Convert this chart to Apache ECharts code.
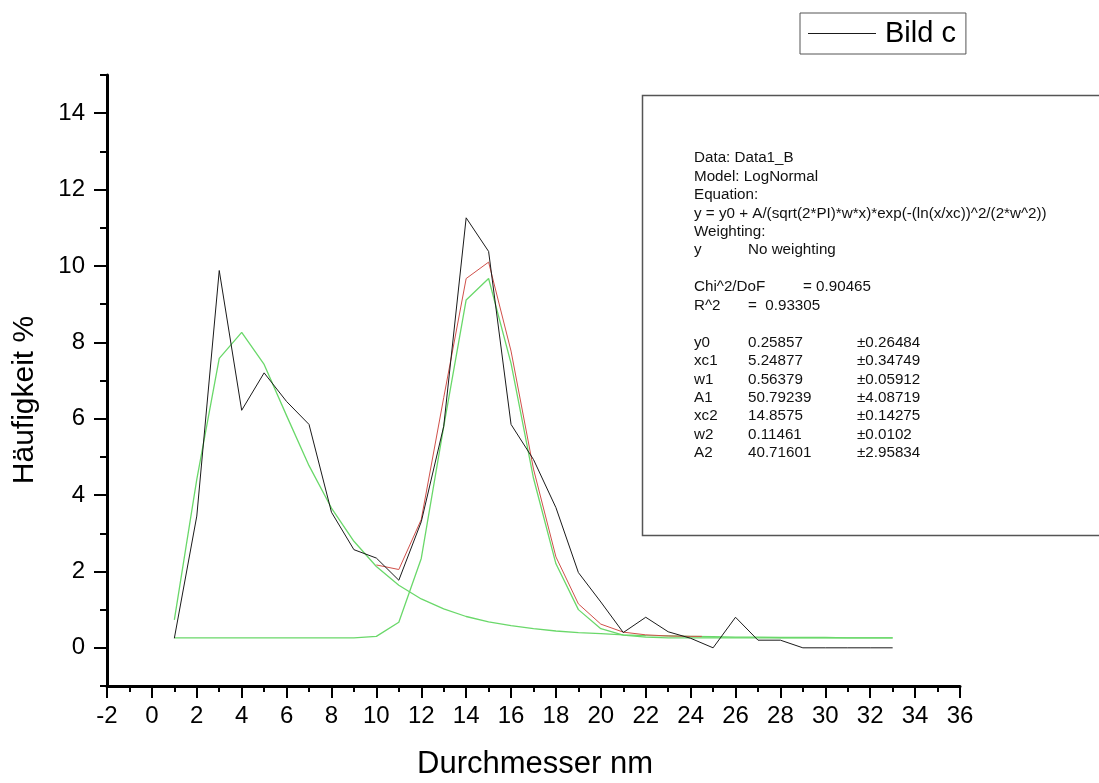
<!DOCTYPE html>
<html>
<head>
<meta charset="utf-8">
<script src="https://cdn.jsdelivr.net/npm/echarts@6/dist/echarts.min.js"></script>
<style>
html,body{margin:0;padding:0;background:#fff;}
#chart{width:1099px;height:783px;}
</style>
</head>
<body>
<div id="chart"></div>
<script>
// ---- data ----
const xValues = [1,2,3,4,5,6,7,8,9,10,11,12,13,14,15,16,17,18,19,20,21,22,23,24,25,26,27,28,29,30,31,32,33];
const bildC   = [0.25,3.45,9.88,6.22,7.2,6.45,5.85,3.55,2.57,2.35,1.77,3.3,5.8,11.26,10.38,5.85,4.93,3.67,1.97,1.2,0.4,0.8,0.42,0.25,0.0,0.8,0.2,0.2,0,0,0,0,0];
const peak1   = [0.73,4.41,7.58,8.26,7.42,6.08,4.77,3.66,2.79,2.13,1.64,1.28,1.02,0.82,0.68,0.58,0.50,0.44,0.40,0.37,0.34,0.32,0.31,0.30,0.29,0.28,0.28,0.27,0.27,0.27,0.26,0.26,0.26];
const peak2   = [0.26,0.26,0.26,0.26,0.26,0.26,0.26,0.26,0.26,0.30,0.67,2.34,5.79,9.11,9.67,7.45,4.44,2.20,1.00,0.50,0.33,0.28,0.26,0.26,0.26,0.26,0.26,0.26,0.26,0.26,0.26,0.26,0.26];
const fitCumX = [10,11,12,13,14,15,16,17,18,19,20,21,22,23,24,24.5];
const fitCum  = [2.17,2.05,3.36,6.55,9.67,10.10,7.77,4.68,2.38,1.15,0.62,0.41,0.34,0.31,0.30,0.30];
const yTickLabels = [0,2,4,6,8,10,12,14];
const legendName = 'Bild c';
const xTitle = 'Durchmesser nm';
const yTitle = 'Häufigkeit %';
const infoLines = [
  ['Data: Data1_B'],
  ['Model: LogNormal'],
  ['Equation:'],
  ['y = y0 + A/(sqrt(2*PI)*w*x)*exp(-(ln(x/xc))^2/(2*w^2))'],
  ['Weighting:'],
  ['y', 'No weighting'],
  [],
  ['Chi^2/DoF', '= 0.90465'],
  ['R^2', '=  0.93305'],
  [],
  ['y0', '0.25857', '±0.26484'],
  ['xc1', '5.24877', '±0.34749'],
  ['w1', '0.56379', '±0.05912'],
  ['A1', '50.79239', '±4.08719'],
  ['xc2', '14.8575', '±0.14275'],
  ['w2', '0.11461', '±0.0102'],
  ['A2', '40.71601', '±2.95834']
];

const FONT = '"Liberation Sans", Arial, sans-serif';
const zip = (xs, ys) => xs.map((x, i) => [x, ys[i]]);

// text box
const boxLeft = 642, boxTop = 95;
const graphicEls = [
  {
    type: 'rect', silent: true, z: 10,
    shape: { x: boxLeft + 0.5, y: boxTop + 0.5, width: 480, height: 440 },
    style: { fill: '#fff', stroke: '#555', lineWidth: 1.5 }
  }
];
const rowY0 = 158, rowStep = 18.45;
infoLines.forEach((row, r) => {
  const y = rowY0 + r * rowStep;
  let cols;
  if (row.length === 1) cols = [694];
  else if (row[0] === 'Chi^2/DoF') cols = [694, 803];
  else if (row.length === 2) cols = [694, 748];
  else cols = [694, 748, 857];
  row.forEach((t, c) => {
    graphicEls.push({
      type: 'text', x: cols[c], y: y, silent: true, z: 20,
      style: { text: t, font: '15.2px ' + FONT, fill: '#111', verticalAlign: 'middle', align: 'left' }
    });
  });
});
graphicEls.push({
  type: 'text', x: 535, y: 764, silent: true, z: 20,
  style: { text: xTitle, font: '31px ' + FONT, fill: '#000', align: 'center', verticalAlign: 'middle' }
});
graphicEls.push({
  type: 'text', x: 25, y: 400, rotation: Math.PI / 2, silent: true, z: 20,
  style: { text: yTitle, font: '30px ' + FONT, fill: '#000', align: 'center', verticalAlign: 'middle' }
});

const chart = echarts.init(document.getElementById('chart'), null, { renderer: 'canvas' });
chart.setOption({
  animation: false,
  backgroundColor: '#fff',
  grid: { left: 107, right: 139, top: 75, bottom: 97, containLabel: false },
  legend: {
    data: [legendName],
    left: 800, top: 13,
    orient: 'horizontal',
    icon: 'rect',
    itemWidth: 68, itemHeight: 1,
    padding: [6, 10, 6, 8],
    borderColor: '#555', borderWidth: 1,
    itemStyle: { color: '#1a1a1a' },
    textStyle: { fontSize: 29, color: '#000', fontFamily: FONT, padding: [0, 0, 0, 4] }
  },
  xAxis: [
    {
      type: 'value', position: 'bottom', min: -2, max: 36, interval: 1,
      axisLine: { show: true, onZero: false, lineStyle: { color: '#000', width: 3 } },
      axisTick: { show: true, length: 6, lineStyle: { color: '#000', width: 2 } },
      axisLabel: { show: false },
      splitLine: { show: false }
    },
    {
      type: 'value', position: 'bottom', min: -2, max: 36, interval: 2,
      axisLine: { show: false, onZero: false },
      axisTick: { show: true, length: 12, lineStyle: { color: '#000', width: 2 } },
      axisLabel: { show: true, fontSize: 24, color: '#000', fontFamily: FONT, margin: 18 },
      splitLine: { show: false }
    }
  ],
  yAxis: [
    {
      type: 'value', position: 'left', min: -1, max: 15, interval: 1,
      axisLine: { show: true, onZero: false, lineStyle: { color: '#000', width: 3 } },
      axisTick: { show: true, length: 7, lineStyle: { color: '#000', width: 2 } },
      axisLabel: { show: false },
      splitLine: { show: false }
    },
    {
      type: 'value', position: 'left', min: -1, max: 15,
      axisLine: { show: false, onZero: false },
      axisTick: { show: true, length: 13, customValues: yTickLabels, lineStyle: { color: '#000', width: 2 } },
      axisLabel: { show: true, fontSize: 24, color: '#000', fontFamily: FONT, margin: 22, customValues: yTickLabels },
      splitLine: { show: false }
    }
  ],
  series: [
    {
      name: 'Peak 2', type: 'line', xAxisIndex: 0, yAxisIndex: 0,
      data: zip(xValues, peak2), symbol: 'none', smooth: false,
      lineStyle: { color: '#6ad86a', width: 1.3 }, z: 2
    },
    {
      name: 'Peak 1', type: 'line', xAxisIndex: 0, yAxisIndex: 0,
      data: zip(xValues, peak1), symbol: 'none', smooth: false,
      lineStyle: { color: '#6ad86a', width: 1.3 }, z: 2
    },
    {
      name: 'Fit', type: 'line', xAxisIndex: 0, yAxisIndex: 0,
      data: zip(fitCumX, fitCum), symbol: 'none', smooth: false,
      lineStyle: { color: '#d0504a', width: 1 }, z: 3
    },
    {
      name: legendName, type: 'line', xAxisIndex: 0, yAxisIndex: 0,
      data: zip(xValues, bildC), symbol: 'none', smooth: false,
      lineStyle: { color: '#1a1a1a', width: 1 }, itemStyle: { color: '#1a1a1a' }, z: 4
    }
  ],
  graphic: graphicEls
});
</script>
</body>
</html>
